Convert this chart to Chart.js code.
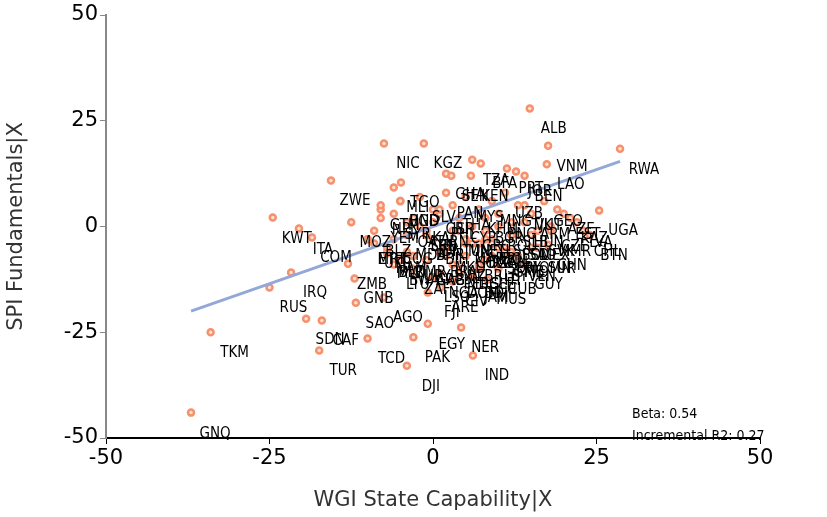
<!DOCTYPE html>
<html>
<head>
<meta charset="utf-8">
<script src="https://cdn.jsdelivr.net/npm/chart.js@4.4.0/dist/chart.umd.min.js"></script>
<style>
  html, body { margin: 0; padding: 0; background: #fff; }
  #wrap { width: 827px; height: 517px; }
</style>
</head>
<body>
<div id="wrap"><canvas id="c" width="827" height="517"></canvas></div>
<script>
// country codes with WGI (x) and SPI (y) residuals
const codes = ['GNQ','TKM','RWA','ALB','VNM','LAO','NIC','KGZ','ZWE','KWT','ITA','COM','IRQ','RUS',
  'SAO','AGO','SDN','CAF','TUR','TCD','PAK','DJI','EGY','NER','IND','FJI','ARE','MUS','GNB','CHN',
  'TZA','BFA','PRT','JOR','BEN','TGO','MLI','GHA','SEN','KEN','UGA','MOZ','MWI','ZMB','ETH','NPL',
  'BGD','LKA','IDN','PHL','THA','MYS','KHM','MNG','UZB','TJK','ARM','GEO','AZE','KAZ','UKR','BLR',
  'MDA','SRB','BIH','MKD','MNE','HRV','BGR','ROU','POL','HUN','SVK','CZE','EST','LVA','LTU','CHL',
  'BTN','URY','ARG','BRA','PER','COL','ECU','BOL','PRY','VEN','MEX','GTM','HND','SLV','CRI','PAN',
  'DOM','JAM','HTI','CUB','TTO','GUY','SUR','BLZ','COG','CMR','GAB','NGA','CIV','LBR','SLE','GIN',
  'GMB','MRT','NAM','BWA','ZAF','LSO','SWZ','MDG','BDI','ERI','SOM','SSD','YEM','SYR','LBN','IRN',
  'TUN','MAR','DZA','LBY','SAU','OMN','QAT','BHR','ISR','CYP','GRC','TLS','PNG','SLB','VUT','MMR'];
const wgi = [-37,-34,28.6,14.8,17.6,17.4,-7.5,-1.4,-15.6,-24.5,-20.5,-18.5,-21.7,-25,
  -11.8,-7.5,-19.4,-17,-17.4,-10,-3,-4,-0.8,4.3,6.1,-0.8,1.2,8.3,-12,17.6,
  6,7.3,11.3,12.7,14,-4.9,-6,2,2.8,5.8,25.4,-12.5,-7,-13,-10,-8,
  -5,-3,-1,1,3,5,7,9,11,13,15,17,19,21,-9,-7,
  -4,-2,0,2,4,6,8,10,12,14,16,18,20,22,-6,23,
  24,-3,-1,1,3,5,7,9,11,13,15,-8,-5,-2,0,2,
  4,6,8,10,12,14,16,-9,-6,-4,-1,1,3,5,7,9,
  11,-10,-7,-5,-3,0,2,4,6,8,10,12,-8,-6,-2,0,
  3,5,7,9,13,15,-4,-1,1,4,6,8,10,12,14,18];
const spi = [-44,-25,18.4,27.9,19.1,14.7,19.6,19.6,10.9,2.1,-0.5,-2.6,-10.9,-14.4,
  -18,-16.8,-21.8,-22.2,-29.3,-26.5,-26.2,-32.9,-23,-23.9,-30.5,-15.6,-14.4,-12.5,-12.3,-4.3,
  15.8,14.9,13.7,13,12,10.4,9.2,12.5,12,12,3.8,1,-6.4,-8.8,-3,4,
  6,2,-1,3,5,7,4,6,8,5,3,6,4,2,-4,-6,
  -2,0,-3,-5,-1,-4,2,0,-2,1,-1,0,3,1,-9,-1,
  -2,-7,-8,-6,-9,-4,-10,-3,-5,-7,-2,5,6,7,4,8,
  -11,-12,-8,-10,-6,-9,-5,-1,-3,-6,-8,-11,-13,-7,-9,-4,
  -6,-3,-5,-8,-10,-12,-7,-9,-11,-3,-5,-2,2,3,0,1,
  -1,-3,-4,-7,-2,-5,1,-2,4,2,0,-1,3,1,5,-1];
const fitX = [-37, 28.6];
const fitY = [-20, 15.4];
const xTicks = [-50, -25, 0, 25, 50];
const yTicks = [-50, -25, 0, 25, 50];
const statLines = ['Beta: 0.54', 'Incremental R2: 0.27'];

const pts = wgi.map((x, i) => ({ x: x, y: spi[i], code: codes[i] }));
const fit = fitX.map((x, i) => ({ x: x, y: fitY[i] }));

const labelPlugin = {
  id: 'labels',
  afterDatasetsDraw(chart) {
    const ctx = chart.ctx;
    const meta = chart.getDatasetMeta(1);
    ctx.save();
    ctx.font = '15px "DejaVu Sans Condensed", "DejaVu Sans"';
    ctx.fillStyle = '#000';
    ctx.textAlign = 'center';
    ctx.textBaseline = 'middle';
    meta.data.forEach((el, i) => {
      ctx.fillText(pts[i].code, el.x + 24, el.y + 21);
    });
    ctx.font = '14px "DejaVu Sans Condensed", "DejaVu Sans"';
    ctx.textAlign = 'left';
    ctx.fillText(statLines[0], 632, 414);
    ctx.fillText(statLines[1], 632, 436);
    ctx.restore();
  }
};

new Chart(document.getElementById('c'), {
  type: 'scatter',
  data: {
    datasets: [
      {
        type: 'line',
        data: fit,
        borderColor: '#93a8d8',
        borderWidth: 3,
        pointRadius: 0,
        fill: false
      },
      {
        data: pts,
        backgroundColor: '#fde2d6',
        borderColor: '#f7906c',
        borderWidth: 2.5,
        pointRadius: 3
      }
    ]
  },
  plugins: [labelPlugin],
  options: {
    responsive: false,
    animation: false,
    layout: { padding: { top: 15, right: 67, left: 0, bottom: 0 } },
    plugins: { legend: { display: false }, tooltip: { enabled: false } },
    scales: {
      x: {
        type: 'linear', min: -50, max: 50,
        afterBuildTicks: s => { s.ticks = xTicks.map(v => ({ value: v })); },
        afterFit: s => { s.height = 79; },
        grid: { drawOnChartArea: false, color: '#000', tickLength: 6 },
        border: { color: '#000', width: 2 },
        ticks: { color: '#000', font: { family: 'DejaVu Sans', size: 21 }, padding: 2 },
        title: { display: true, text: 'WGI State Capability|X', color: '#333',
          font: { family: 'DejaVu Sans', size: 21 }, padding: { top: 6 } }
      },
      y: {
        type: 'linear', min: -50, max: 50,
        afterBuildTicks: s => { s.ticks = yTicks.map(v => ({ value: v })); },
        afterFit: s => { s.width = 106; },
        grid: { drawOnChartArea: false, color: '#888', tickLength: 6 },
        border: { color: '#888', width: 2 },
        ticks: { color: '#000', font: { family: 'DejaVu Sans', size: 21 }, padding: 2 },
        title: { display: true, text: 'SPI Fundamentals|X', color: '#333',
          font: { family: 'DejaVu Sans', size: 21 }, padding: { bottom: 2 } }
      }
    }
  }
});
</script>
</body>
</html>
